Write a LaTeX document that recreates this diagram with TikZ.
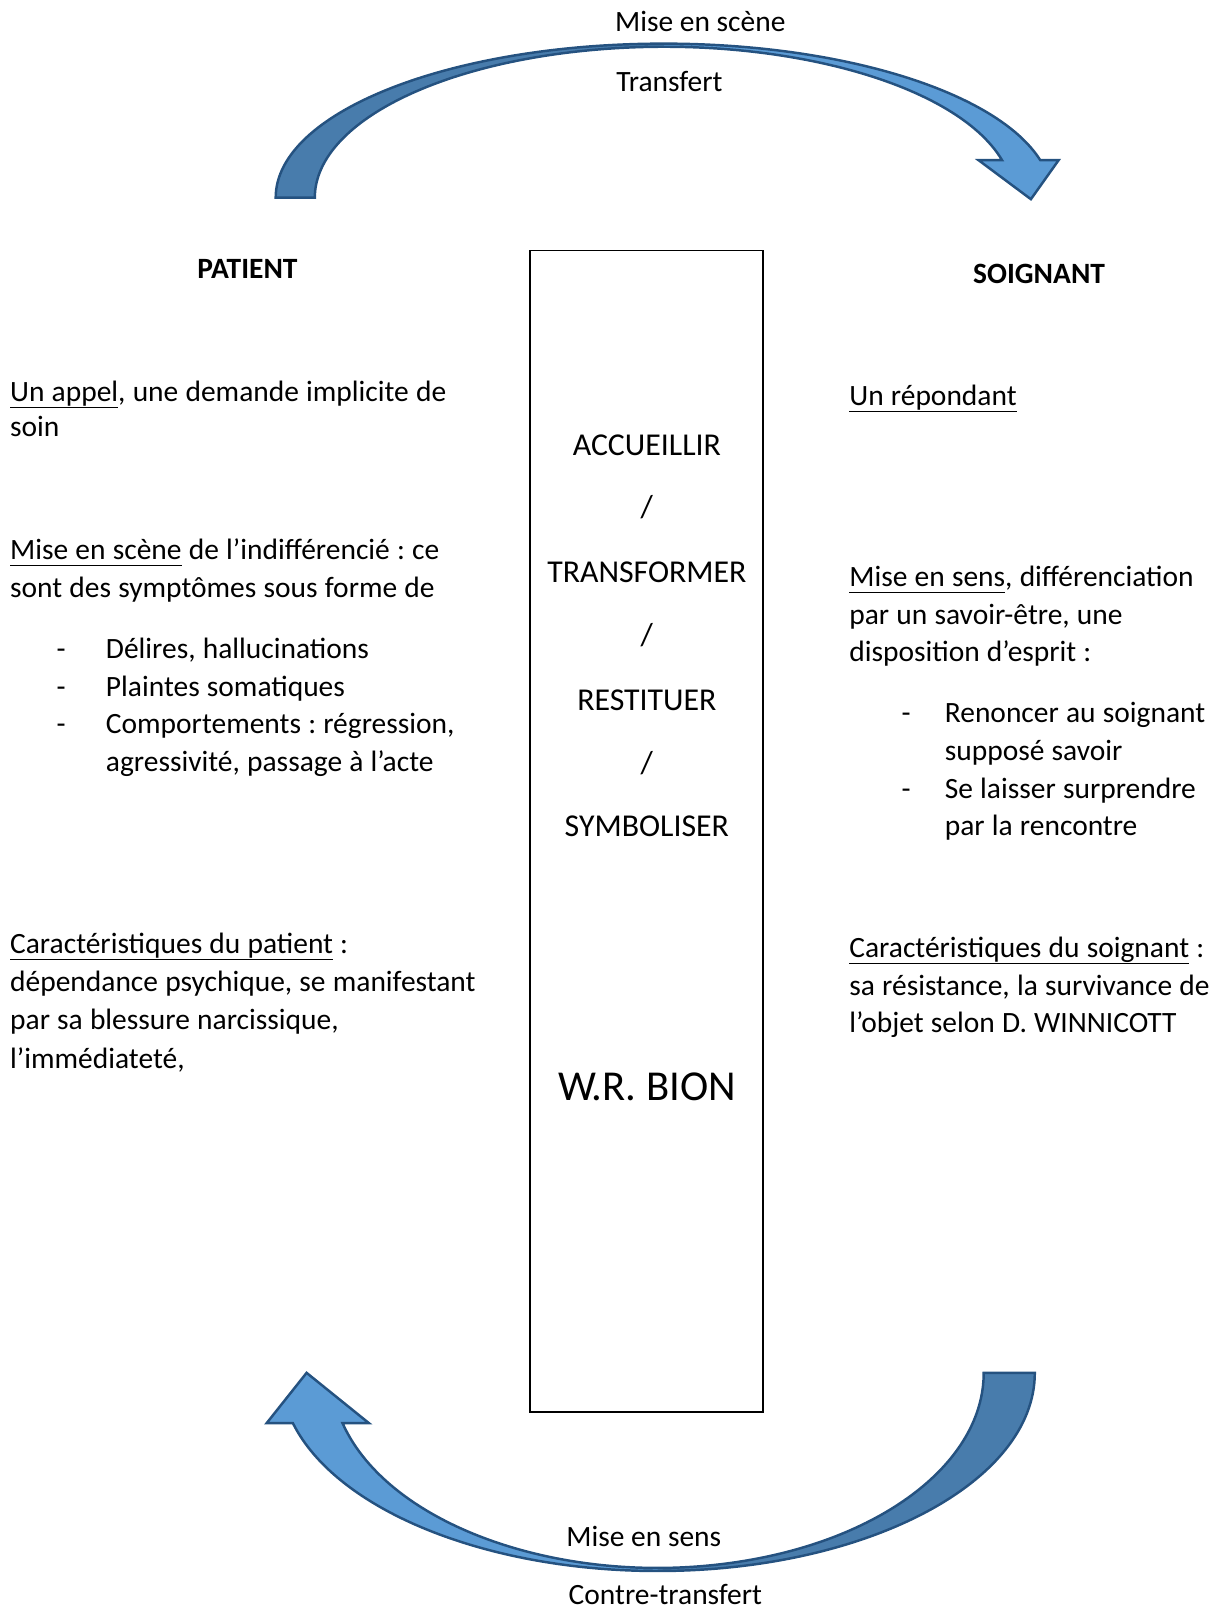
\documentclass[tikz,border=0pt]{standalone}
\usepackage{fontspec}
\setmainfont{Carlito}
\frenchspacing
\usepackage{tikz}
\definecolor{arrowdark}{RGB}{72,124,172}
\definecolor{arrowlight}{RGB}{91,155,213}
\definecolor{arrowedge}{RGB}{37,82,128}
\newcommand{\tiret}[1]{\makebox[#1][l]{-}}
\newcommand{\souligne}[1]{\setbox0\hbox{#1}\rlap{\rule[-6.5pt]{\wd0}{1.5pt}}\box0{}}
\newcommand{\serre}{\spaceskip=7pt plus 2pt minus 1pt\relax}

\begin{document}
\begin{tikzpicture}[x=1pt,y=-1pt,
  txt/.style={anchor=base west,inner sep=0pt,text width=500pt,align=left,font=\fontsize{28.7}{36.6}\selectfont,execute at begin node=\serre},
  lbl/.style={inner sep=0pt,font=\fontsize{28.7}{34}\selectfont},
  titre/.style={inner sep=0pt,font=\bfseries\fontsize{28.7}{34}\selectfont},
  verbe/.style={inner sep=0pt,font=\fontsize{31}{36}\selectfont},
  bord/.style={draw=arrowedge,line width=2.4pt}]

\useasboundingbox (0,0) rectangle (1187,1568);

\path[save path=\flechehaut] (268.5,192.5) arc[start angle=180,end angle=345.9,x radius=378,y radius=150]
  -- (1031,156) -- (1004,194) -- (953,156) -- (975.9,156)
  arc[start angle=345.6,end angle=180,x radius=340,y radius=147] -- cycle;
\path[save path=\flechebas] (1007.8,1337) arc[start angle=0,end angle=165.3,x radius=367.3,y radius=193]
  -- (259.7,1386) -- (298.6,1337) -- (359.3,1386) -- (333.6,1386)
  arc[start angle=165.05,end angle=0,x radius=317.6,y radius=190] -- cycle;

\fill[arrowlight,use path=\flechehaut];
\begin{scope}
\clip (0,0) rectangle (646.5,300);
\fill[arrowdark,use path=\flechehaut];
\end{scope}
\draw[bord,use path=\flechehaut];

\fill[arrowlight,use path=\flechebas];
\begin{scope}
\clip (640.5,1300) rectangle (1100,1568);
\fill[arrowdark,use path=\flechebas];
\end{scope}
\draw[bord,use path=\flechebas];

\node[lbl] (scene) at (682,21) {Mise en scène};
\node[lbl] (transfert) at (652,79) {Transfert};
\node[lbl] (sens) at (627,1496) {Mise en sens};
\node[lbl] (contre) at (648,1553) {Contre-transfert};

\node[draw,line width=1.6pt,minimum width=227pt,minimum height=1131pt] (cadre) at (629.5,809.5) {};
\node[verbe] (accueillir) at (630,434) {ACCUEILLIR};
\node[verbe] (s1) at (630,494) {/};
\node[verbe] (transformer) at (630,557) {TRANSFORMER};
\node[verbe] (s2) at (630,619) {/};
\node[verbe] (restituer) at (630,682) {RESTITUER};
\node[verbe] (s3) at (630,743) {/};
\node[verbe] (symboliser) at (630,805) {SYMBOLISER};
\node[inner sep=0pt,font=\fontsize{41.5}{46}\selectfont] (bion) at (630,1058) {W.R. BION};

\node[titre] (patient) at (241,262) {PATIENT};
\node[titre] (soignant) at (1012,267) {SOIGNANT};

\node[txt] (appel) at (9.7,391) {\souligne{Un appel}, une demande implicite de\\[-2.5pt]soin};
\node[txt] (indiff) at (9.7,545) {\souligne{Mise en scène} de l’indifférencié : ce\\sont des symptômes sous forme de};
\node[txt] (symptomes) at (55,641.5) {\tiret{48pt}Délires, hallucinations\\\tiret{48pt}Plaintes somatiques\\\tiret{48pt}Comportements : régression,\\\hspace*{48pt}agressivité, passage à l’acte};
\node[txt,font=\fontsize{28.7}{37.3}\selectfont] (carpatient) at (9.7,928.5) {\souligne{Caractéristiques du patient} :\\dépendance psychique, se manifestant\\par sa blessure narcissique,\\l’immédiateté,};

\node[txt] (repondant) at (827,395) {\souligne{Un répondant}};
\node[txt] (differ) at (827,571.5) {\souligne{Mise en sens}, différenciation\\par un savoir-être, une\\disposition d’esprit :};
\node[txt] (disposition) at (878,704) {\tiret{42pt}Renoncer au soignant\\\hspace*{42pt}supposé savoir\\\tiret{42pt}Se laisser surprendre\\\hspace*{42pt}par la rencontre};
\node[txt] (carsoignant) at (827,932.5) {\souligne{Caractéristiques du soignant} :\\sa résistance, la survivance de\\l’objet selon D. WINNICOTT};

\end{tikzpicture}
\end{document}
